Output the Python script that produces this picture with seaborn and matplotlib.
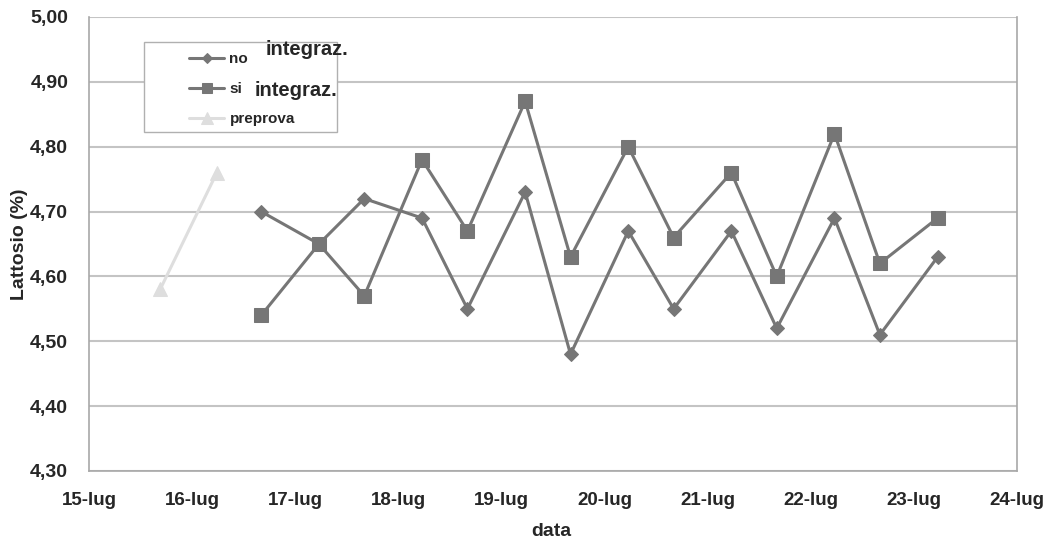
import matplotlib
matplotlib.use("Agg")
import matplotlib.pyplot as plt
from matplotlib.patches import Rectangle
import seaborn as sns
import pandas as pd
import numpy as np

# Data (fractional day of July)
pre_days = [15.69, 16.24]
pre_vals = [4.58, 4.76]
days = [16.67, 17.23, 17.67, 18.23, 18.67, 19.23, 19.67, 20.23, 20.67, 21.23, 21.67, 22.23, 22.67, 23.23]
no_vals = [4.70, 4.65, 4.72, 4.69, 4.55, 4.73, 4.48, 4.67, 4.55, 4.67, 4.52, 4.69, 4.51, 4.63]
si_vals = [4.54, 4.65, 4.57, 4.78, 4.67, 4.87, 4.63, 4.80, 4.66, 4.76, 4.60, 4.82, 4.62, 4.69]
tick_days = [15, 16, 17, 18, 19, 20, 21, 22, 23, 24]
tick_labels = ["15-lug", "16-lug", "17-lug", "18-lug", "19-lug", "20-lug", "21-lug", "22-lug", "23-lug", "24-lug"]
y_ticks = [4.30, 4.40, 4.50, 4.60, 4.70, 4.80, 4.90, 5.00]

sns.set_style("white")
plt.rcParams['font.family'] = ['Liberation Sans', 'DejaVu Sans']
plt.rcParams['font.weight'] = 'bold'

W, H = 1053, 540
fig = plt.figure(figsize=(W/100, H/100), dpi=100)
ax = fig.add_axes([89/W, 1 - 471/H, (1017-89)/W, (471-17)/H])

df_no = pd.DataFrame({"x": days, "y": no_vals})
df_si = pd.DataFrame({"x": days, "y": si_vals})
df_pre = pd.DataFrame({"x": pre_days, "y": pre_vals})

grey = "#767676"
light = "#dedede"
sns.lineplot(data=df_no, x="x", y="y", ax=ax, color=grey, lw=2.2, marker="D",
             markersize=7, markeredgecolor=grey, label="no", sort=False, zorder=3)
sns.lineplot(data=df_si, x="x", y="y", ax=ax, color=grey, lw=2.2, marker="s",
             markersize=9.5, markeredgecolor=grey, label="si", sort=False, zorder=3)
sns.lineplot(data=df_pre, x="x", y="y", ax=ax, color=light, lw=2.2, marker="^",
             markersize=10, markeredgecolor=light, label="preprova", sort=False, zorder=3)

ax.set_xlim(15, 24)
ax.set_ylim(4.30, 5.00)
ax.set_xticks(tick_days)
ax.set_xticklabels(tick_labels, fontsize=13.5, fontweight="bold")
ax.set_yticks(y_ticks)
ax.set_yticklabels([f"{v:.2f}".replace(".", ",") for v in y_ticks], fontsize=14, fontweight="bold")
ax.yaxis.grid(True, color="#c4c4c4", lw=1.5)
ax.xaxis.grid(False)
for s in ["left", "bottom", "right"]:
    ax.spines[s].set_color("#a8a8a8")
    ax.spines[s].set_linewidth(1.2)
ax.spines["top"].set_visible(False)
ax.tick_params(axis="both", which="both", length=5, color="#a8a8a8", width=1.2, direction="out")
ax.tick_params(axis="y", pad=10)
ax.tick_params(axis="x", pad=10)

ax.set_xlabel("")
ax.set_ylabel("")
fig.text(551/W, 1 - 531/H, "data", fontsize=14, fontweight="bold", ha="center", va="center")
fig.text(20/W, 1 - 244/H, "Lattosio (%)", fontsize=14, fontweight="bold", ha="center", va="center",
         rotation=90)

# legend box (wider than its content, as in the original)
box = Rectangle((144/W, 1 - 132/H), (337-144)/W, (132-42)/H, transform=fig.transFigure,
                facecolor="white", edgecolor="#b0b0b0", lw=1.0, zorder=4)
ax.add_patch(box)
leg = ax.legend(loc="upper left", bbox_to_anchor=((189-89)/928, (471-52)/454),
                frameon=False, fontsize=11, handlelength=2.3, handletextpad=0.35,
                borderpad=0.0, labelspacing=1.05, borderaxespad=0, markerscale=0.8)
for t in leg.get_texts():
    t.set_fontweight("bold")
leg.set_zorder(5)

fig.text(266/W, 1 - 40/H, "integraz.", fontsize=14.5, fontweight="bold", va="top", ha="left", zorder=6)
fig.text(255/W, 1 - 81/H, "integraz.", fontsize=14.5, fontweight="bold", va="top", ha="left", zorder=6)

fig.savefig("out.png", dpi=100)
